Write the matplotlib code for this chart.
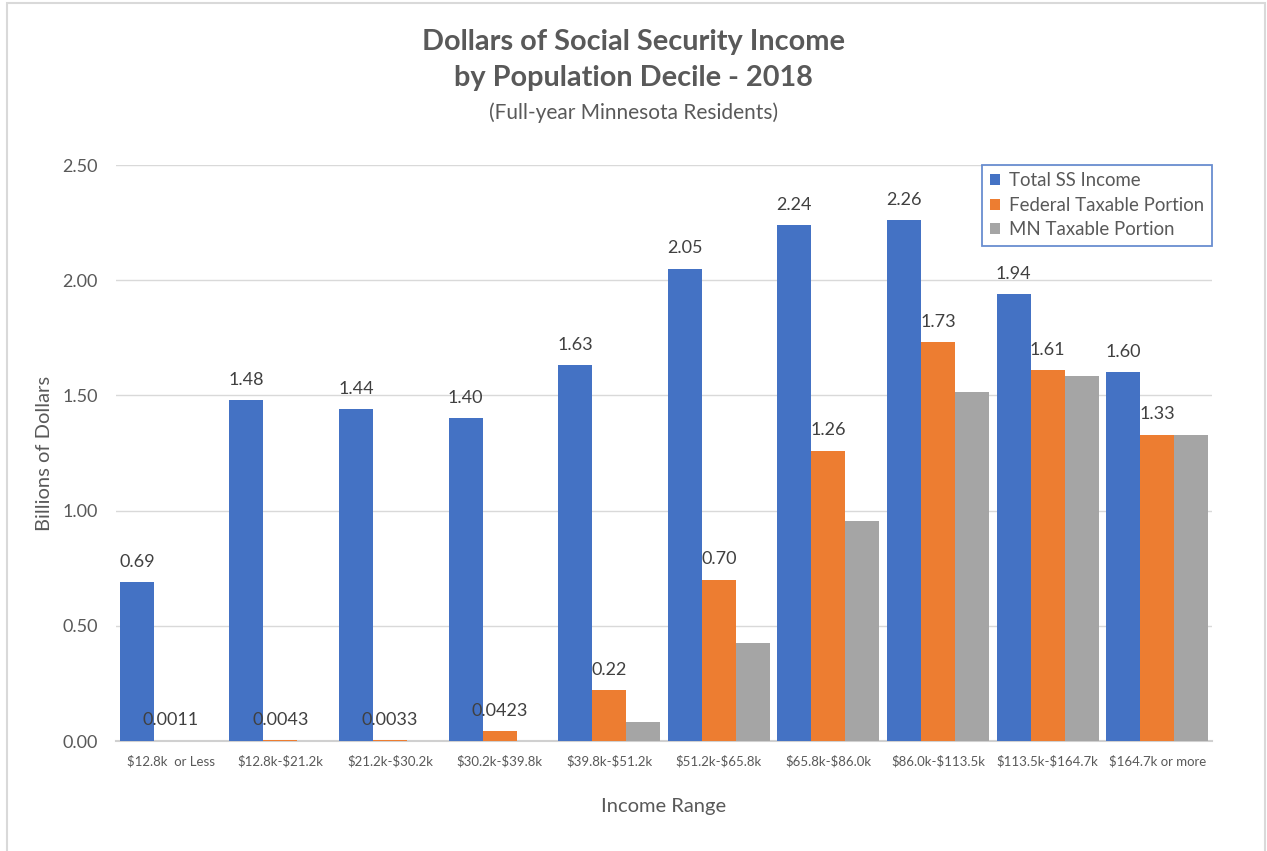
import numpy as np
import matplotlib
matplotlib.use('Agg')
from matplotlib import pyplot as plt
from matplotlib.patches import Rectangle

plt.rcParams['font.family'] = ['Lato', 'DejaVu Sans']
plt.rcParams['text.parse_math'] = False

# data (billions of dollars)
ranges = ['$12.8k  or Less', '$12.8k-$21.2k', '$21.2k-$30.2k', '$30.2k-$39.8k',
          '$39.8k-$51.2k', '$51.2k-$65.8k', '$65.8k-$86.0k', '$86.0k-$113.5k',
          '$113.5k-$164.7k', '$164.7k or more']
total_ss = [0.69, 1.48, 1.44, 1.40, 1.63, 2.05, 2.24, 2.26, 1.94, 1.60]
federal = [0.0011, 0.0043, 0.0033, 0.0423, 0.22, 0.70, 1.26, 1.73, 1.61, 1.33]
mn = [0.0, 0.0, 0.0, 0.0, 0.082, 0.425, 0.955, 1.515, 1.584, 1.328]

total_lbl = ['0.69', '1.48', '1.44', '1.40', '1.63', '2.05', '2.24', '2.26', '1.94', '1.60']
fed_lbl = ['0.0011', '0.0043', '0.0033', '0.0423', '0.22', '0.70', '1.26', '1.73', '1.61', '1.33']

c_blue = '#4472C4'
c_orange = '#ED7D31'
c_gray = '#A5A5A5'
txt = '#595959'

W, H = 1267, 851
fig = plt.figure(figsize=(W / 100, H / 100), dpi=100)
# light outer frame (bottom edge falls outside the image)
fig.patches.append(Rectangle((7 / W, -0.01), (1265 - 7) / W, (H - 3) / H + 0.01,
                             transform=fig.transFigure, fill=False,
                             edgecolor='#D9D9D9', linewidth=1.5))
ax = fig.add_axes([116 / W, (H - 741) / H, (1212 - 116) / W, (741 - 165) / H])

x = np.arange(len(ranges))
w = 0.31
b1 = ax.bar(x - w, total_ss, w, color=c_blue, label='Total SS Income', zorder=3)
b2 = ax.bar(x, federal, w, color=c_orange, label='Federal Taxable Portion', zorder=3)
b3 = ax.bar(x + w, mn, w, color=c_gray, label='MN Taxable Portion', zorder=3)

for bars, labels in [(b1, total_lbl), (b2, fed_lbl)]:
    for rect, s in zip(bars, labels):
        ax.annotate(s, (rect.get_x() + rect.get_width() / 2, rect.get_height()),
                    xytext=(0, 11), textcoords='offset points', ha='center',
                    va='baseline', fontsize=13, color='#404040')

ax.set_xlim(-0.5, 9.5)
ax.set_ylim(0, 2.5)
ax.set_yticks([0, 0.5, 1.0, 1.5, 2.0, 2.5])
ax.set_yticklabels(['0.00', '0.50', '1.00', '1.50', '2.00', '2.50'])
ax.set_xticks(x)
ax.set_xticklabels(ranges, fontsize=9.5, color=txt)
ax.tick_params(axis='y', labelsize=13, colors=txt, length=0, pad=13)
ax.tick_params(axis='x', length=0, pad=10)
ax.grid(axis='y', color='#D9D9D9', linewidth=1, zorder=0)
for s in ['top', 'right', 'left']:
    ax.spines[s].set_visible(False)
ax.spines['bottom'].set_color('#D0D0D0')
ax.spines['bottom'].set_linewidth(1.5)

ax.set_ylabel('Billions of Dollars', fontsize=14.5, color=txt, labelpad=7)
ax.set_xlabel('Income Range', fontsize=14.5, color=txt, labelpad=22)

fig.text(0.5, 1 - 42 / H, 'Dollars of Social Security Income', ha='center', va='center',
         fontsize=20.8, fontweight='bold', color=txt)
fig.text(0.5, 1 - 78 / H, 'by Population Decile - 2018', ha='center', va='center',
         fontsize=20.8, fontweight='bold', color=txt)
fig.text(0.5, 1 - 113 / H, '(Full-year Minnesota Residents)', ha='center', va='center',
         fontsize=15, color=txt)

leg = ax.legend(loc='upper right', bbox_to_anchor=(1.0, 1.0), fontsize=13.4,
                frameon=True, fancybox=False, handlelength=0.55, handleheight=0.55,
                handletextpad=0.5, borderpad=0.4, labelspacing=0.4, borderaxespad=0)
leg.get_frame().set_edgecolor(c_blue)
leg.get_frame().set_linewidth(1.3)
for t in leg.get_texts():
    t.set_color(txt)

plt.savefig('out.png', dpi=100)
